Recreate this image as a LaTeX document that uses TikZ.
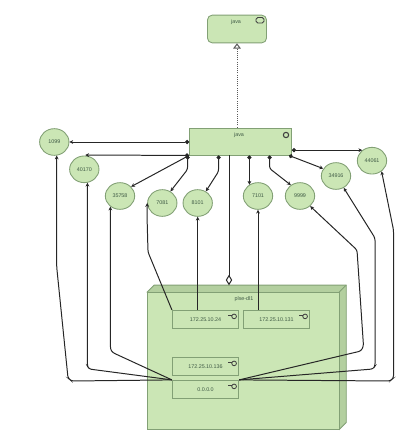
\documentclass[tikz,border=0pt]{standalone}
\usepackage{fontspec}
\setmainfont{Liberation Sans}
\usetikzlibrary{arrows.meta,calc,shapes.geometric}
\definecolor{vfill}{HTML}{CBE6B5}
\definecolor{vside}{HTML}{B3CF9F}
\definecolor{vline}{HTML}{82A075}
\definecolor{vtext}{HTML}{3F5A45}
\definecolor{vlink}{HTML}{262626}
\tikzset{
  lbl/.style={font=\fontsize{4.6}{5.5}\selectfont,text=vtext,inner sep=0pt},
  obj/.style={draw=vline,fill=vfill,line width=0.75pt,inner sep=0pt},
  port/.style={obj,ellipse,minimum width=0.88cm,minimum height=0.8cm,font=\fontsize{4.6}{5.5}\selectfont,text=vtext},
  ipbox/.style={obj,minimum width=1.99cm,minimum height=0.55cm,font=\fontsize{4.6}{5.5}\selectfont,text=vtext},
  ico/.style={draw=black!75,line width=0.7pt},
  lnk/.style={-{Stealth[length=3.2pt,width=3.2pt]},line width=0.85pt,draw=vlink,rounded corners=2pt},
  dlnk/.style={{Circle[length=3.5pt]}-{Stealth[length=3.2pt,width=3.2pt]},line width=0.85pt,draw=vlink,rounded corners=2pt},
}
\begin{document}
\begin{tikzpicture}[x=0.03cm,y=-0.03cm]
  \useasboundingbox (0,0) rectangle (417,447);
  % artifact
  \node[obj,rounded corners=4pt,minimum width=1.77cm,minimum height=0.83cm] (art) at (237,29) {};
  \node[lbl] (artlbl) at (236,22) {java};
  \draw[ico,fill=vfill,rounded corners=1.5pt] (256,17.5) rectangle (264,23);
  % java process
  \node[obj,minimum width=3.06cm,minimum height=0.81cm] (jv) at (240.5,141.5) {};
  \node[lbl] (jvlbl) at (239,135) {java};
  \draw[ico,line width=0.9pt] (286,135) circle (0.08cm);
  % ports
  \foreach \n/\x/\y in {1099/54.3/142,40170/84.3/169.3,35758/120/196,7081/162.3/203,8101/197.7/203,7101/258/196,9999/300/196,34916/336/176,44061/372/160.7}
    \node[port] (p\n) at (\x,\y) {\n};
  % node
  \node[minimum width=5.75cm,minimum height=4.11cm,inner sep=0pt] (plback) at (250.2,353.8) {};
  \node[minimum width=5.75cm,minimum height=4.11cm,inner sep=0pt] (pl) at (243.2,360.8) {};
  \filldraw[obj,fill=vside] (pl.north west) -- (plback.north west) -- (plback.north east) -- (plback.south east) -- (pl.south east) -- cycle;
  \draw[obj] (pl.north west) rectangle (pl.south east);
  \draw[obj,fill=none] (pl.north east) -- (plback.north east);
  \node[lbl] (pllbl) at (244,299) {plse-dl1};
  \node[ipbox] (a24) at (205.5,319.5) {172.25.10.24};
  \node[ipbox] (a131) at (276.5,319.5) {172.25.10.131};
  \node[ipbox] (a136) at (205.5,366.5) {172.25.10.136};
  \node[ipbox] (a0) at (205.5,389.5) {0.0.0.0};
  \foreach \b in {a24,a131,a136,a0} {
    \draw[ico] ($(\b.north east)+(-5,6.5)$) circle (0.07cm);
    \draw[ico] ($(\b.north east)+(-7.5,6)$) -- +(-3.5,0);
  }
  % java -- ports
  \draw[-{Triangle[open,length=4.5pt,width=6.5pt,fill=white]},densely dotted,line width=0.85pt,draw=black!65] (jv.north -| art) -- (art.south);
  \draw[dlnk] (jv.west |- p1099) -- (p1099.east);
  \draw[dlnk] (jv.south west) -- ($(p40170.north)+(1,-0.5)$);
  \draw[dlnk] (jv.south west) -- (p35758.40);
  \draw[dlnk] ($(jv.south west)+(-1.5,0)$) -- ++(0,14) -- (p7081.55);
  \draw[dlnk] ($(jv.south west)+(29.5,0)$) -- ++(0,16) -- (p8101.55);
  \draw[dlnk] (p7101.127 |- jv.south) -- (p7101.127);
  \draw[dlnk] ($(jv.south west)+(80.5,0)$) -- ++(0,13) -- (p9999.130);
  \draw[dlnk] ($(jv.south east)+(-3,0)$) -- (p34916.150);
  \draw[dlnk] (jv.east |- p44061.133) -- (p44061.133);
  % diamond
  \coordinate (dm) at (229,285.3);
  \draw[-{Diamond[open,length=9pt,width=5.5pt,fill=white]},line width=0.85pt,draw=vlink] (dm |- jv.south) -- (dm);
  % addresses -- ports
  \draw[lnk] (a24.north west) -- (148,252) -- (147,215) -- (p7081.west);
  \draw[lnk] (p8101 |- a24.north) -- (p8101.south);
  \draw[lnk] (p7101 |- a131.north) -- (p7101.south);
  \draw[lnk] (a0.north west) -- (71.5,381) -- (68,378) -- (p1099.280 |- 0,267) -- (p1099.280);
  \draw[lnk] (a0.north west) -- (89,369) -- (p40170.283 |- 0,366) -- (p40170.283);
  \draw[lnk] (a0.north west) -- (112.5,352.5) -- (p35758.228 |- 0,349) -- (p35758.228);
  \draw[lnk] (a0.north east) -- (361,351) -- (363.5,346) -- (357,250) -- (p9999.315);
  \draw[lnk] (a0.north east) -- (373,369) -- (375,366) -- (375,238) -- (p34916.303);
  \draw[lnk] (a0.north east) -- (390,381) -- (393.5,378) -- (393.5,230) -- (p44061.312);
\end{tikzpicture}
\end{document}
